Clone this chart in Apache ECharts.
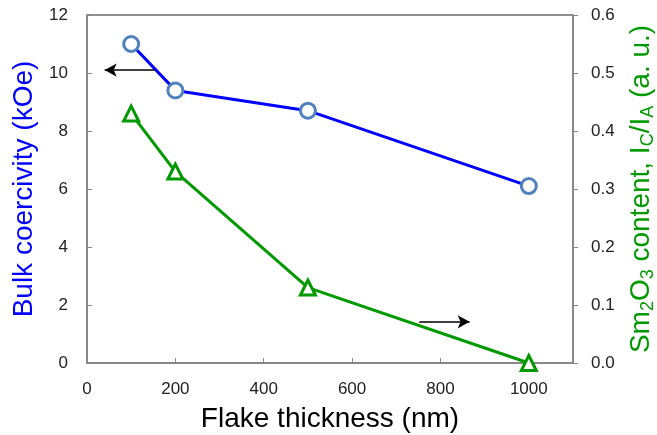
<!DOCTYPE html>
<html><head><meta charset="utf-8">
<script src="https://cdn.jsdelivr.net/npm/echarts@6/dist/echarts.min.js"></script>
<style>html,body{margin:0;padding:0;background:#fff}#c{width:657px;height:435px}</style>
</head><body><div id="c"></div>
<script>
const thickness = [100, 200, 500, 1000];
const coercivity = [11.0, 9.4, 8.7, 6.1];
const sm2o3 = [0.43, 0.33, 0.13, 0.0];
const xTicks = [0, 200, 400, 600, 800, 1000];
const leftArrow = [[153, 10.1], [40, 10.1]];
const rightArrow = [[752, 0.071], [866, 0.071]];

const chart = echarts.init(document.getElementById('c'));
const font = 'Liberation Sans, Arial, sans-serif';
chart.setOption({
  animation: false,
  grid: {left: 87, right: 84, top: 15, bottom: 72, show: true, borderColor: '#222', borderWidth: 1,
    outerBoundsMode: 'none', containLabel: false},
  xAxis: {
    type: 'value', min: 0, max: 1100, interval: 200,
    name: 'Flake thickness (nm)', nameLocation: 'middle', nameGap: 42,
    nameTextStyle: {fontFamily: font, fontSize: 28, color: '#000'},
    axisLine: {show: true, onZero: false, lineStyle: {color: '#888', width: 2}},
    axisTick: {show: true, inside: true, length: 5, lineStyle: {color: '#888'}},
    axisLabel: {fontFamily: font, fontSize: 17, color: '#222', margin: 18,
      formatter: v => xTicks.includes(v) ? String(v) : ''},
    splitLine: {show: false}
  },
  yAxis: [{
    type: 'value', min: 0, max: 12, interval: 2,
    name: 'Bulk coercivity (kOe)', nameLocation: 'middle', nameGap: 41, nameRotate: 90,
    nameTextStyle: {fontFamily: font, fontSize: 28, color: '#0000ff'},
    axisLine: {show: true, lineStyle: {color: '#888', width: 2}},
    axisTick: {show: true, inside: true, length: 5, lineStyle: {color: '#888'}},
    axisLabel: {fontFamily: font, fontSize: 17, color: '#222', margin: 19},
    splitLine: {show: false}
  }, {
    type: 'value', min: 0, max: 0.6, interval: 0.1, position: 'right',
    name: '{n|Sm}{s|2}{n|O}{s|3}{n| content, I}{s|C}{n|/I}{s|A}{n| (a. u.)}',
    nameLocation: 'middle', nameGap: 52, nameRotate: 90,
    nameTextStyle: {fontFamily: font, fontSize: 28, color: '#009900',
      rich: {n: {fontFamily: font, fontSize: 28, color: '#009900'},
             s: {fontFamily: font, fontSize: 18, color: '#009900', verticalAlign: 'bottom', padding: [14, 0, 0, 0]}}},
    axisLine: {show: true, lineStyle: {color: '#888', width: 2}},
    axisTick: {show: true, inside: false, length: 5, lineStyle: {color: '#888'}},
    axisLabel: {fontFamily: font, fontSize: 17, color: '#222', margin: 18, formatter: v => v.toFixed(1)},
    splitLine: {show: false}
  }],
  series: [{
    type: 'line', yAxisIndex: 0,
    data: thickness.map((t, i) => [t, coercivity[i]]),
    lineStyle: {color: '#0000ff', width: 3},
    symbol: 'circle', symbolSize: 15,
    itemStyle: {color: '#fff', borderColor: '#4f81bd', borderWidth: 3},
    markLine: {silent: true, symbol: ['none', 'arrow'], symbolSize: [10, 12],
      label: {show: false}, lineStyle: {color: '#000', width: 1.5, type: 'solid'},
      data: [[{coord: leftArrow[0]}, {coord: leftArrow[1]}]]}
  }, {
    type: 'line', yAxisIndex: 1,
    data: thickness.map((t, i) => [t, sm2o3[i]]),
    lineStyle: {color: '#009900', width: 3},
    symbol: 'triangle', symbolSize: 15,
    itemStyle: {color: '#fff', borderColor: '#009900', borderWidth: 3},
    markLine: {silent: true, symbol: ['none', 'arrow'], symbolSize: [10, 12],
      label: {show: false}, lineStyle: {color: '#000', width: 1.5, type: 'solid'},
      data: [[{coord: rightArrow[0]}, {coord: rightArrow[1]}]]}
  }]
});
</script></body></html>
